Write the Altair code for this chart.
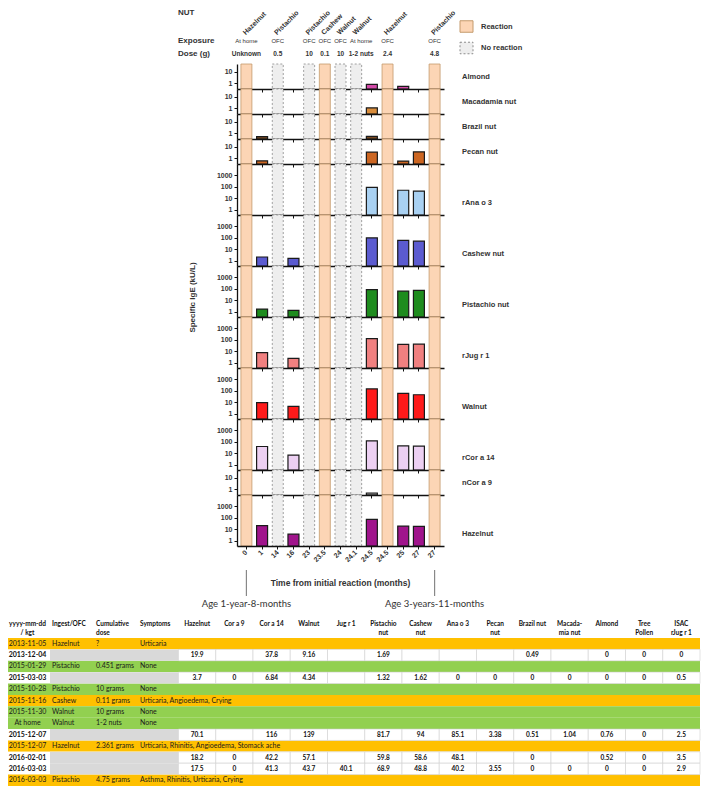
import json
import altair as alt
import pandas as pd

# ---------------- data ----------------
TIME_LABELS = ["0", "1", "14", "16", "23", "23.5", "24", "24.1", "24.5", "24.5", "25", "27", "27"]
KEYS = [f"c{i}" for i in range(len(TIME_LABELS))]
EVENT_KIND = ["Reaction", "Measure", "No reaction", "Measure", "No reaction", "Reaction",
              "No reaction", "No reaction", "Measure", "Reaction", "Measure", "Measure", "Reaction"]
EVENT_NUT = ["Hazelnut", "", "Pistachio", "", "Pistachio", "Cashew", "Walnut", "Walnut", "",
             "Hazelnut", "", "", "Pistachio"]
EVENT_EXPOSURE = ["At home", "", "OFC", "", "OFC", "OFC", "OFC", "At home", "", "OFC", "", "", "OFC"]
EVENT_DOSE = ["Unknown", "", "0.5", "", "10", "0.1", "10", "1-2 nuts", "", "2.4", "", "", "4.8"]

ALLERGENS = ["Almond", "Macadamia nut", "Brazil nut", "Pecan nut", "rAna o 3", "Cashew nut",
             "Pistachio nut", "rJug r 1", "Walnut", "rCor a 14", "nCor a 9", "Hazelnut"]
PANEL_KIND = ["small", "small", "small", "small", "large", "large", "large", "large", "large",
              "large", "small", "large"]
MEASURE_COLS = ["c1", "c3", "c8", "c10", "c11"]
IGE_ALMOND = [0, 0, 0.76, 0.52, 0]
IGE_MACADAMIA = [0, 0, 1.04, 0, 0]
IGE_BRAZIL = [0.49, 0, 0.51, 0, 0]
IGE_PECAN = [0.57, 0, 3.38, 0.55, 3.55]
IGE_RANA = [0, 0, 85.1, 48.1, 40.2]
IGE_CASHEW = [2.1, 1.62, 94, 58.6, 48.8]
IGE_PISTACHIO = [1.69, 1.32, 81.7, 59.8, 68.9]
IGE_RJUG = [7.5, 2.4, 120, 38, 40.1]
IGE_WALNUT = [9.16, 4.34, 139, 57.1, 43.7]
IGE_RCOR14 = [37.8, 6.84, 116, 42.2, 41.3]
IGE_NCOR9 = [0, 0, 0.45, 0, 0]
IGE_HAZELNUT = [19.9, 3.7, 70.1, 18.2, 17.5]
IGE = [IGE_ALMOND, IGE_MACADAMIA, IGE_BRAZIL, IGE_PECAN, IGE_RANA, IGE_CASHEW, IGE_PISTACHIO,
       IGE_RJUG, IGE_WALNUT, IGE_RCOR14, IGE_NCOR9, IGE_HAZELNUT]

TABLE_DATES = ["2013-11-05", "2013-12-04", "2015-01-29", "2015-03-03", "2015-10-28", "2015-11-16",
               "2015-11-30", "At home", "2015-12-07", "2015-12-07", "2016-02-01", "2016-03-03",
               "2016-03-03"]
TABLE_INGEST = ["Hazelnut", "", "Pistachio", "", "Pistachio", "Cashew", "Walnut", "Walnut", "",
                "Hazelnut", "", "", "Pistachio"]
TABLE_DOSE = ["?", "", "0.451 grams", "", "10 grams", "0.11 grams", "10 grams", "1-2 nuts", "",
              "2.361 grams", "", "", "4.75 grams"]
TABLE_SYMPTOMS = ["Urticaria", "", "None", "", "None", "Urticaria, Angioedema, Crying", "None", "None",
                  "", "Urticaria, Rhinitis, Angioedema, Stomack ache", "", "",
                  "Asthma, Rhinitis, Urticaria, Crying"]
ROW_TYPE = ["reaction", "measure", "tolerated", "measure", "tolerated", "reaction", "tolerated",
            "tolerated", "measure", "reaction", "measure", "measure", "reaction"]

TABLE_NUT_COLS = ["Hazelnut", "Cor a 9", "Cor a 14", "Walnut", "Jug r 1", "Pistachio nut",
                  "Cashew nut", "Ana o 3", "Pecan nut", "Brazil nut", "Macadamia nut", "Almond",
                  "Tree Pollen", "ISAC rJug r 1"]
HEAD_NUT_L1 = ["Hazelnut", "Cor a 9", "Cor a 14", "Walnut", "Jug r 1", "Pistachio", "Cashew",
               "Ana o 3", "Pecan", "Brazil nut", "Macada-", "Almond", "Tree", "ISAC"]
HEAD_NUT_L2 = ["", "", "", "", "", "nut", "nut", "", "nut", "", "mia nut", "", "Pollen", "rJug r 1"]
HEAD_TXT_COLS = ["date", "ingest", "dose", "symptoms"]
HEAD_TXT_L1 = ["yyyy-mm-dd", "Ingest/OFC", "Cumulative", "Symptoms"]
HEAD_TXT_L2 = ["/ kgt", "", "dose", ""]

MEAS_ROW_INDEX = [1, 3, 8, 10, 11]
VAL_2013_12_04 = ["19.9", "", "37.8", "9.16", "", "1.69", "", "", "", "0.49", "", "0", "0", "0"]
VAL_2015_03_03 = ["3.7", "0", "6.84", "4.34", "", "1.32", "1.62", "0", "0", "0", "0", "0", "0", "0.5"]
VAL_2015_12_07 = ["70.1", "", "116", "139", "", "81.7", "94", "85.1", "3.38", "0.51", "1.04", "0.76", "0", "2.5"]
VAL_2016_02_01 = ["18.2", "0", "42.2", "57.1", "", "59.8", "58.6", "48.1", "", "0", "", "0.52", "0", "3.5"]
VAL_2016_03_03 = ["17.5", "0", "41.3", "43.7", "40.1", "68.9", "48.8", "40.2", "3.55", "0", "0", "0", "0", "2.9"]
MEAS_VALUES = [VAL_2013_12_04, VAL_2015_03_03, VAL_2015_12_07, VAL_2016_02_01, VAL_2016_03_03]

AGE_LABELS = ["Age 1-year-8-months", "Age 3-years-11-months"]
AGE_COLS = ["c0", "c12"]
X_TITLE = "Time from initial reaction (months)"
Y_TITLE = "Specific IgE (kU/L)"

# ---------------- style / layout ----------------
FONT = "Liberation Sans"
TFONT = "Lato"
DARK = "#333333"
BAR_COLORS = ["#d24aa8", "#d98c3a", "#7a4a20", "#cc6622", "#a9d1f2", "#5b5bd0", "#1e8c1e",
              "#f08080", "#ff1a1a", "#ecd0f2", "#999999", "#a0148c"]
W = 207
H_HEAD = 56
H_SMALL, H_LARGE = 25, 51
H_TABLE = 240
DOM_SMALL, DOM_LARGE = [0.3, 50], [0.35, 9000]
LABEL_LEVEL = 3.8
REACTION_FILL, REACTION_STROKE = "#fcd5b5", "#c49a6c"
NOREACT_FILL, NOREACT_STROKE = "#eeeeee", "#8c8c8c"

TIME_SCALE = alt.Scale(type="band", domain=KEYS, paddingInner=0.3, paddingOuter=0.25)
LABEL_EXPR = json.dumps(TIME_LABELS) + "[indexof(" + json.dumps(KEYS) + ", datum.value)]"


def band(domain, lo, hi, inner=0.0):
    return alt.Scale(type="band", domain=domain, range=[lo, hi], paddingInner=inner, paddingOuter=0)


def slot_y(name, lo, hi):
    return alt.Y("slot:N", scale=band([name], lo, hi), axis=None)


ev = pd.DataFrame({"col": KEYS, "label": TIME_LABELS, "kind": EVENT_KIND, "nut": EVENT_NUT,
                   "exposure": EVENT_EXPOSURE, "dose": EVENT_DOSE})
ev_named = ev[ev["nut"] != ""]
xt_plain = alt.X("col:N", scale=TIME_SCALE, axis=None)

# ---------------- header ----------------
rot = alt.Chart(ev_named).transform_calculate(slot="'nut'").mark_text(
    angle=315, align="left", baseline="bottom", fontSize=7, fontWeight="bold", font=FONT, color=DARK
).encode(x=xt_plain, y=slot_y("nut", 27, 29), text="nut:N")

header_rows = []
for field, key, lo, hi, size, weight in [("exposure", "exp", 31, 35, 6, "normal"),
                                         ("dose", "dose", 44, 48, 6.5, "bold")]:
    for sel, shift in [("datum.col != 'c7'", 0), ("datum.col == 'c7'", 5)]:
        header_rows.append(
            alt.Chart(ev_named).transform_filter(sel).transform_calculate(slot=f"'{key}'").mark_text(
                align="center", baseline="middle", dx=shift, fontSize=size, fontWeight=weight,
                font=FONT, color=DARK
            ).encode(x=xt_plain, y=slot_y(key, lo, hi), text=f"{field}:N"))

row_labels = []
for lab, lo, hi in [("NUT", 2, 7), ("Exposure", 31, 35), ("Dose (g)", 44, 48)]:
    row_labels.append(
        alt.Chart(pd.DataFrame({"lab": [lab], "k": ["rl"], "slot": [lab]})).mark_text(
            align="left", baseline="middle", fontSize=8, fontWeight="bold", font=FONT, color=DARK
        ).encode(x=alt.X("k:N", scale=band(["rl"], -59, -20), axis=None, bandPosition=0),
                 y=alt.Y("slot:N", scale=band([lab], lo, hi), axis=None), text="lab:N"))

leg_df = pd.DataFrame({"item": ["Reaction", "No reaction"], "k": ["box", "box"]})
leg_x = alt.X("k:N", scale=band(["box"], 223, 236), axis=None)
leg_y = alt.Y("item:N", scale=band(["Reaction", "No reaction"], 12.75, 45.75, 0.465), axis=None)
leg_r = alt.Chart(leg_df).transform_filter("datum.item == 'Reaction'").mark_rect(
    fill=REACTION_FILL, stroke=REACTION_STROKE, strokeWidth=1).encode(x=leg_x, y=leg_y)
leg_n = alt.Chart(leg_df).transform_filter("datum.item == 'No reaction'").mark_rect(
    fill=NOREACT_FILL, stroke=NOREACT_STROKE, strokeWidth=1, strokeDash=[2, 2]).encode(x=leg_x, y=leg_y)
leg_t = alt.Chart(leg_df).mark_text(
    align="left", baseline="middle", dx=8, fontSize=7.5, fontWeight="bold", font=FONT, color=DARK
).encode(x=alt.X("k:N", scale=band(["box"], 223, 236), axis=None, bandPosition=1), y=leg_y, text="item:N")

header = alt.layer(rot, *header_rows, *row_labels, leg_r, leg_n, leg_t).resolve_scale(
    x="independent", y="independent").properties(width=W, height=H_HEAD)

# ---------------- panels ----------------
panels = []
for i, name in enumerate(ALLERGENS):
    small = PANEL_KIND[i] == "small"
    h = H_SMALL if small else H_LARGE
    dom = DOM_SMALL if small else DOM_LARGE
    ticks = [1, 10] if small else [1, 10, 100, 1000]
    last = i == len(ALLERGENS) - 1
    xaxis = alt.Axis(labels=last, labelExpr=LABEL_EXPR, labelAngle=315, labelAlign="right",
                     labelBaseline="middle", labelFontSize=7, labelFont=FONT, labelFontWeight="bold",
                     labelColor=DARK, labelPadding=2, ticks=True, tickSize=3, tickColor="#111111",
                     tickWidth=1, domainColor="#111111", domainWidth=1.5, title=None, grid=False,
                     zindex=1)
    x = alt.X("col:N", scale=TIME_SCALE, axis=xaxis)
    yscale = alt.Scale(type="log", domain=dom, nice=False)
    yaxis_kw = dict(values=ticks, format="d", labelFontSize=7, labelFont=FONT, labelFontWeight="bold",
                    labelColor=DARK, labelPadding=2, labelOverlap=False, tickSize=3, tickColor="#111111",
                    domainColor="#111111", domainWidth=1.3, grid=False, zindex=1)
    if name == "Pistachio nut":
        yaxis = alt.Axis(title=Y_TITLE, titleFont=FONT, titleFontSize=8, titleFontWeight="bold",
                         titleColor=DARK, titlePadding=20, titleY=31, **yaxis_kw)
    else:
        yaxis = alt.Axis(title=None, **yaxis_kw)
    react = alt.Chart(ev).transform_filter("datum.kind == 'Reaction'").mark_rect(
        fill=REACTION_FILL, stroke=REACTION_STROKE, strokeWidth=0.8).encode(x=x)
    noreact = alt.Chart(ev).transform_filter("datum.kind == 'No reaction'").mark_rect(
        fill=NOREACT_FILL, stroke=NOREACT_STROKE, strokeWidth=0.8, strokeDash=[2, 2]).encode(x=x)
    bars = alt.Chart(pd.DataFrame({"col": MEASURE_COLS, "v": IGE[i]})).transform_filter(
        "datum.v > 0").mark_bar(fill=BAR_COLORS[i], stroke="#1a1a1a", strokeWidth=1.2).encode(
        x=x, y=alt.Y("v:Q", scale=yscale, axis=yaxis), y2=alt.datum(dom[0]))
    label = alt.Chart(pd.DataFrame({"name": [name]})).mark_text(
        align="left", baseline="middle", dx=27.4, fontSize=7.5, fontWeight="bold", font=FONT, color=DARK
    ).encode(x=alt.XDatum(KEYS[-1]), y=alt.YDatum(LABEL_LEVEL), text="name:N")
    panels.append(alt.layer(react, noreact, bars, label).properties(width=W, height=h))

# ---------------- table + bottom annotations ----------------
ROW_IDS = [f"r{i:02d}" for i in range(len(TABLE_DATES))]
rows_df = pd.DataFrame({"r": ROW_IDS, "date": TABLE_DATES, "ingest": TABLE_INGEST, "dose": TABLE_DOSE,
                        "symptoms": TABLE_SYMPTOMS, "type": ROW_TYPE})
yrow = alt.Y("r:N", scale=band(ROW_IDS, 92, 240), axis=None)
TXT_SCALE = alt.Scale(type="point", domain=HEAD_TXT_COLS, range=[-229, -97], padding=0)
NUT_SCALE = band(TABLE_NUT_COLS, -58.5, 463)

bg = alt.Chart(rows_df).transform_calculate(span="'all'").mark_rect().encode(
    x=alt.X("span:N", scale=band(["all"], -229, 463), axis=None), y=yrow,
    color=alt.Color("type:N", scale=alt.Scale(domain=["reaction", "tolerated", "measure"],
                                              range=["#ffc000", "#92d050", "#ffffff"]), legend=None))
grey = alt.Chart(rows_df).transform_filter("datum.type == 'measure'").transform_calculate(
    span="'grey'").mark_rect(fill="#d9d9d9").encode(
    x=alt.X("span:N", scale=band(["grey"], -187, -58.5), axis=None), y=yrow)

num_long = pd.DataFrame([{"r": ROW_IDS[ri], "ncol": c, "txt": v}
                         for ri, vals in zip(MEAS_ROW_INDEX, MEAS_VALUES)
                         for c, v in zip(TABLE_NUT_COLS, vals)])
cells = alt.Chart(num_long).mark_rect(fill="#ffffff", stroke="#d0d0d0", strokeWidth=0.6).encode(
    x=alt.X("ncol:N", scale=NUT_SCALE, axis=None), y=yrow)
num_txt = alt.Chart(num_long[num_long["txt"] != ""]).mark_text(
    align="center", baseline="middle", fontSize=6.5, fontWeight="bold", font=TFONT, color="#111111"
).encode(x=alt.X("ncol:N", scale=NUT_SCALE, axis=None), y=yrow, text="txt:N")

date_df = rows_df.assign(tcol="date")
date_ev = alt.Chart(date_df).transform_filter("datum.type != 'measure'").mark_text(
    align="center", baseline="middle", dx=19.5, fontSize=7, font=TFONT, color="#1a1a1a"
).encode(x=alt.X("tcol:N", scale=TXT_SCALE, axis=None), y=yrow, text="date:N")
date_ms = alt.Chart(date_df).transform_filter("datum.type == 'measure'").mark_text(
    align="center", baseline="middle", dx=19.5, fontSize=7, fontWeight="bold", font=TFONT, color="#111111"
).encode(x=alt.X("tcol:N", scale=TXT_SCALE, axis=None), y=yrow, text="date:N")

txt_long = rows_df.melt(id_vars=["r", "type"], value_vars=["ingest", "dose", "symptoms"],
                        var_name="tcol", value_name="txt")
txt_long = txt_long[txt_long["txt"] != ""]
ev_txt = alt.Chart(txt_long).mark_text(
    align="left", baseline="middle", fontSize=7, font=TFONT, color="#1a1a1a"
).encode(x=alt.X("tcol:N", scale=TXT_SCALE, axis=None), y=yrow, text="txt:N")

head_lines = alt.Y("line:N", scale=band(["l1", "l2"], 74, 91), axis=None)
htxt = pd.DataFrame([{"tcol": c, "line": ln, "txt": t}
                     for c, a, b in zip(HEAD_TXT_COLS, HEAD_TXT_L1, HEAD_TXT_L2)
                     for ln, t in (("l1", a), ("l2", b)) if t])
head_date = alt.Chart(htxt[htxt["tcol"] == "date"]).mark_text(
    align="center", baseline="middle", dx=19.5, fontSize=6.5, fontWeight="bold", font=TFONT, color="#111111"
).encode(x=alt.X("tcol:N", scale=TXT_SCALE, axis=None), y=head_lines, text="txt:N")
head_txt = alt.Chart(htxt[htxt["tcol"] != "date"]).mark_text(
    align="left", baseline="middle", fontSize=6.5, fontWeight="bold", font=TFONT, color="#111111"
).encode(x=alt.X("tcol:N", scale=TXT_SCALE, axis=None), y=head_lines, text="txt:N")
hnut = pd.DataFrame([{"ncol": c, "line": ln, "txt": t}
                     for c, a, b in zip(TABLE_NUT_COLS, HEAD_NUT_L1, HEAD_NUT_L2)
                     for ln, t in (("l1", a), ("l2", b)) if t])
head_nut = alt.Chart(hnut).mark_text(
    align="center", baseline="middle", fontSize=6.5, fontWeight="bold", font=TFONT, color="#111111"
).encode(x=alt.X("ncol:N", scale=NUT_SCALE, axis=None), y=head_lines, text="txt:N")

ann_df = pd.DataFrame({"col": AGE_COLS, "age": AGE_LABELS})
bracket = alt.Chart(ann_df).transform_calculate(slot="'br'").mark_tick(
    orient="vertical", size=26, thickness=1.2, color="#555555"
).encode(x=xt_plain, y=slot_y("br", 24, 50))
xtitle = alt.Chart(pd.DataFrame({"col": [KEYS[6]], "t": [X_TITLE]})).transform_calculate(
    slot="'br'").mark_text(align="center", baseline="middle", fontSize=8.5, fontWeight="bold",
                           font=FONT, color=DARK).encode(x=xt_plain, y=slot_y("br", 24, 50), text="t:N")
ages = alt.Chart(ann_df).transform_calculate(slot="'age'").mark_text(
    align="center", baseline="middle", fontSize=9.5, font=TFONT, color=DARK
).encode(x=xt_plain, y=slot_y("age", 54, 62), text="age:N")

table = alt.layer(bg, grey, cells, num_txt, date_ev, date_ms, ev_txt, head_date, head_txt, head_nut,
                  bracket, xtitle, ages).resolve_scale(x="independent", y="independent").properties(
    width=W, height=H_TABLE)

chart = alt.vconcat(header, *panels, table, spacing=0, bounds="flush").properties(
    padding=0, background="white").configure_view(strokeWidth=0)

chart.save("out.html", embed_options={"renderer": "svg", "actions": False})
